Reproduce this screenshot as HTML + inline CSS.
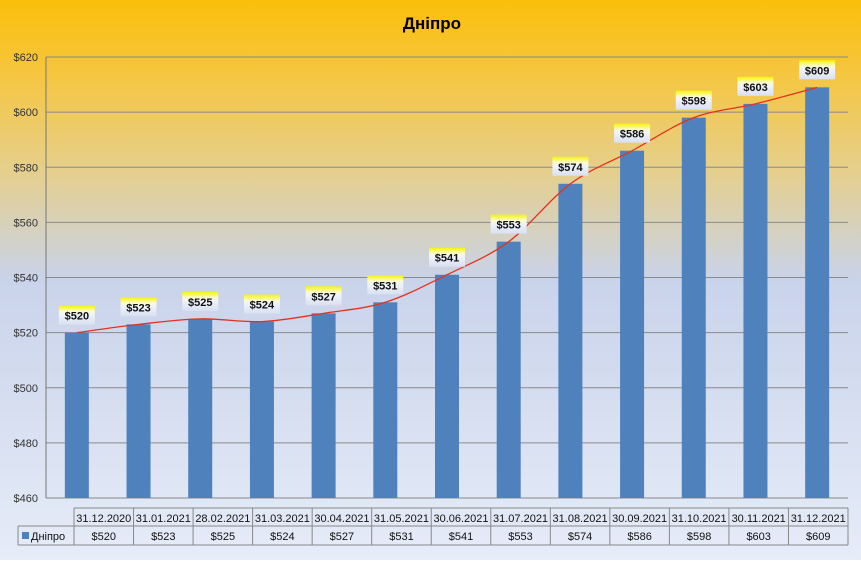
<!DOCTYPE html>
<html><head><meta charset="utf-8"><style>
body{margin:0;width:861px;height:560px;overflow:hidden;font-family:"Liberation Sans",sans-serif;}
</style></head><body>
<svg id="c" width="861" height="560" xmlns="http://www.w3.org/2000/svg">
<defs>
<linearGradient id="bg" x1="0" y1="0" x2="0" y2="1">
<stop offset="0" stop-color="#fbbf0a"/><stop offset="0.12" stop-color="#f6c53a"/><stop offset="0.3" stop-color="#e6cf8a"/><stop offset="0.5" stop-color="#c9d3ea"/><stop offset="1" stop-color="#e6ecf8"/>
</linearGradient>
<linearGradient id="lb" x1="0" y1="0" x2="0" y2="1">
<stop offset="0" stop-color="#f5f500"/><stop offset="0.3" stop-color="#fafad0"/><stop offset="0.5" stop-color="#eef2fa"/><stop offset="1" stop-color="#d8e0f0"/>
</linearGradient>
</defs>
<rect width="861" height="560" fill="url(#bg)"/>
<text x="432" y="29" text-anchor="middle" font-size="17" font-weight="bold" fill="#000">Дніпро</text>
<g id="grid"></g><g id="bars"></g><g id="line"></g><g id="labels"></g><g id="table"></g>
</svg>
<script>
const categories=["31.12.2020","31.01.2021","28.02.2021","31.03.2021","30.04.2021","31.05.2021","30.06.2021","31.07.2021","31.08.2021","30.09.2021","31.10.2021","30.11.2021","31.12.2021"];
const values=[520,523,525,524,527,531,541,553,574,586,598,603,609];
const yTicks=[460,480,500,520,540,560,580,600,620];
const NS="http://www.w3.org/2000/svg";
const X0=46,X1=848,Y0=498,Y1=57,VMIN=460,VMAX=620;
const cw=(X1-X0)/categories.length;
const xC=i=>X0+cw*(i+0.5);
const y=v=>Y0-(v-VMIN)/(VMAX-VMIN)*(Y0-Y1);
function mk(t,a,p){const e=document.createElementNS(NS,t);for(const k in a)e.setAttribute(k,a[k]);p.appendChild(e);return e;}
const g=document.getElementById('grid');
yTicks.forEach(v=>{
 const l=mk('line',{x1:X0,x2:X1,y1:y(v),y2:y(v),stroke:'#8a8a8a','stroke-width':1},g);
 
 
 const t=mk('text',{x:X0-8,y:y(v)+4,'text-anchor':'end','font-size':11,fill:'#333'},g);
 t.textContent='$'+v;
 
 
});
const ax=mk('line',{x1:X0,x2:X0,y1:Y1,y2:Y0,stroke:'#777'},g);


const b=document.getElementById('bars'),lb=document.getElementById('labels');
values.forEach((v,i)=>{
 const r=mk('rect',{x:xC(i)-12,y:y(v),width:24,height:Y0-y(v),fill:'#4f81bd'},b);
 
 
 const by=y(v)-27;
 const bx=mk('rect',{x:xC(i)-18,y:by,width:36,height:19,fill:'url(#lb)'},lb);
 
 
 const t=mk('text',{x:xC(i),y:by+14,'text-anchor':'middle','font-size':11,'font-weight':'bold',fill:'#111'},lb);
 t.textContent='$'+v;
 
 
});
// smooth trend line (catmull-rom)
const pts=values.map((v,i)=>[xC(i),y(v)]);
let d='M'+pts[0][0]+','+pts[0][1];
for(let i=0;i<pts.length-1;i++){
 const p0=pts[Math.max(0,i-1)],p1=pts[i],p2=pts[i+1],p3=pts[Math.min(pts.length-1,i+2)];
 d+=' C'+(p1[0]+(p2[0]-p0[0])/6)+','+(p1[1]+(p2[1]-p0[1])/6)+' '+(p2[0]-(p3[0]-p1[0])/6)+','+(p2[1]-(p3[1]-p1[1])/6)+' '+p2[0]+','+p2[1];
}
const ln=mk('path',{d:d,fill:'none',stroke:'#e8301c','stroke-width':1.3},document.getElementById('line'));


// table
const tb=document.getElementById('table');
const TX=74,TW=(X1-TX)/categories.length,R1=508,R2=526,R3=545,HX=18;
const tl=[[TX,R1,X1,R1],[HX,R2,X1,R2],[HX,R3,X1,R3],[HX,R2,HX,R3],[X1,R1,X1,R3]];
for(let i=0;i<=categories.length-1;i++)tl.push([TX+TW*i,R1,TX+TW*i,R3]);
tl.forEach(a=>{const l=mk('line',{x1:a[0],y1:a[1],x2:a[2],y2:a[3],stroke:'#888'},tb);
 
 });
categories.forEach((c,i)=>{
 const t=mk('text',{x:TX+TW*(i+0.5),y:R1+14,'text-anchor':'middle','font-size':11,fill:'#111'},tb);
 t.textContent=c;
 
 
 const u=mk('text',{x:TX+TW*(i+0.5),y:R2+14,'text-anchor':'middle','font-size':11,fill:'#111'},tb);
 u.textContent='$'+values[i];
 
 
});
const lk=mk('rect',{x:22,y:R2+6,width:7,height:7,fill:'#4f81bd'},tb);


const lt=mk('text',{x:31,y:R2+14,'font-size':11,fill:'#111'},tb);
lt.textContent='Дніпро';


</script>
</body></html>
